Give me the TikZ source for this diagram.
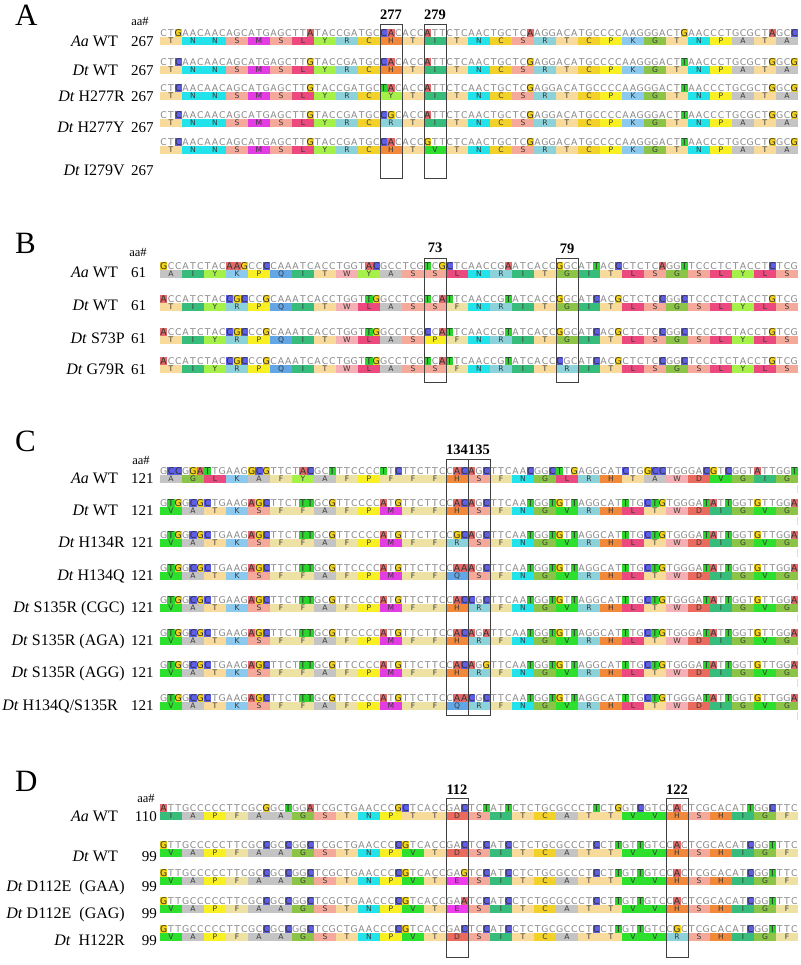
\documentclass[tikz,border=0pt]{standalone}
\usepackage{fontspec}
\setmainfont{Liberation Serif}
\newfontfamily\seqfont{DejaVu Sans}
\definecolor{ntA}{HTML}{E26A6A}
\definecolor{ntC}{HTML}{5E5EE6}
\definecolor{ntG}{HTML}{F2D21A}
\definecolor{ntT}{HTML}{2ED42E}
\definecolor{ntgray}{HTML}{8A8A8A}
\definecolor{ntdark}{HTML}{303030}
\definecolor{aatext}{HTML}{383838}
\definecolor{aaA}{HTML}{C4C4C4}
\definecolor{aaC}{HTML}{F2D22A}
\definecolor{aaD}{HTML}{EA6A5E}
\definecolor{aaE}{HTML}{EE3CEE}
\definecolor{aaF}{HTML}{EDE2A4}
\definecolor{aaG}{HTML}{8CC448}
\definecolor{aaH}{HTML}{F2883A}
\definecolor{aaI}{HTML}{38BC7C}
\definecolor{aaK}{HTML}{8CC9EE}
\definecolor{aaL}{HTML}{EC4A7E}
\definecolor{aaM}{HTML}{E23CE2}
\definecolor{aaN}{HTML}{22E2EA}
\definecolor{aaP}{HTML}{F8F022}
\definecolor{aaQ}{HTML}{62A6E6}
\definecolor{aaR}{HTML}{8CD2DA}
\definecolor{aaS}{HTML}{F5A99A}
\definecolor{aaT}{HTML}{F8DB9A}
\definecolor{aaV}{HTML}{2EE02E}
\definecolor{aaW}{HTML}{F5B0B5}
\definecolor{aaY}{HTML}{A6F04A}
\definecolor{boxline}{HTML}{404040}
\definecolor{edgecyan}{HTML}{BFE9F2}

\ExplSyntaxOn
\clist_new:N \g_hl_clist
\int_new:N \l_seq_pos_int
\tl_new:N \l_seq_opt_tl
\NewDocumentCommand \SetHL { m } { \clist_gset:Nn \g_hl_clist {#1} }
\NewDocumentCommand \NtRow { m m m }
  {
    \int_zero:N \l_seq_pos_int
    \tl_map_inline:nn {#3}
      {
        \int_incr:N \l_seq_pos_int
        \exp_args:NNe \clist_if_in:NnTF \g_hl_clist { \int_use:N \l_seq_pos_int }
          { \tl_set:Nn \l_seq_opt_tl { nthl , fill = nt##1 } }
          { \tl_set:Nn \l_seq_opt_tl { ntplain } }
        \use:e
          {
            \exp_not:N \node [ \exp_not:V \l_seq_opt_tl ] ~ ( #1 n \int_use:N \l_seq_pos_int ) ~ at ~
              ( \fp_eval:n { round ( 160 + ( \l_seq_pos_int - 0.5 ) * 22 / 3 , 3 ) } , #2 ) ~ { ##1 } ;
          }
      }
  }
\NewDocumentCommand \AaRow { m m m }
  {
    \int_zero:N \l_seq_pos_int
    \tl_map_inline:nn {#3}
      {
        \int_incr:N \l_seq_pos_int
        \use:e
          {
            \exp_not:N \node [ aabox , fill = aa##1 ] ~ ( #1 a \int_use:N \l_seq_pos_int ) ~ at ~
              ( \fp_eval:n { 149 + \l_seq_pos_int * 22 } , #2 ) ~ { ##1 } ;
          }
      }
  }
\ExplSyntaxOff

\tikzset{
  ntplain/.style={inner sep=0pt, minimum width=7.333pt, minimum height=8.6pt,
    text=ntgray, font=\seqfont\fontsize{9.3}{9.3}\selectfont, text height=6.8pt, text depth=0pt},
  nthl/.style={ntplain, text=ntdark},
  aabox/.style={inner sep=0pt, minimum width=21.4pt, minimum height=7.6pt,
    text=aatext, font=\seqfont\fontsize{7.6}{7.6}\selectfont, text height=5.5pt, text depth=0pt},
  rowname/.style={anchor=east, inner sep=0pt, font=\fontsize{16}{16}\selectfont, text height=10.6pt, text depth=0pt},
  rownum/.style={anchor=west, inner sep=0pt, font=\fontsize{15}{15}\selectfont, text height=10.2pt, text depth=0pt},
  panellab/.style={anchor=west, inner sep=0pt, font=\fontsize{31}{31}\selectfont, text height=20.5pt, text depth=0pt},
  aahash/.style={inner sep=0pt, font=\fontsize{12.5}{12.5}\selectfont, text height=8.5pt, text depth=0pt},
  posnum/.style={inner sep=0pt, font=\bfseries\fontsize{14.5}{14.5}\selectfont, text height=9.8pt, text depth=0pt},
  mutbox/.style={draw=boxline, line width=0.9pt},
  edgetick/.style={draw=edgecyan, line width=1.3pt},
}

\begin{document}
\begin{tikzpicture}[x=1pt,y=-1pt]
\useasboundingbox (0,0) rectangle (800,965);
\fill[white] (0,0) rectangle (800,965);

% ---------------- Panel A ----------------
\node[panellab] (pA) at (15,15) {A};
\node[aahash] (hA) at (140,21) {aa\#};
\node[posnum] (n277) at (391,15) {277};
\node[posnum] (n279) at (435,15) {279};
\SetHL{3,21,31,32,37,51,72,84,87}
\NtRow{Aa}{33}{CTGAACAACAGCATGAGCTTATACCGATGCCACACCATTCTCAACTGCTCAAGGACATGCCCCAAGGGACTGAACCCTGCGCTAGCC}
\AaRow{Aa}{41}{TNNSMSLYRCHTITNCSRTCPKGTNPATA}
\NtRow{Ab}{62}{CTCAACAACAGCATGAGCTTGTACCGATGCCACACCATTCTCAACTGCTCGAGGACATGCCCCAAGGGACTTAACCCTGCGCTGGCG}
\AaRow{Ab}{70}{TNNSMSLYRCHTITNCSRTCPKGTNPATA}
\NtRow{Ac}{88}{CTCAACAACAGCATGAGCTTGTACCGATGCTACACCATTCTCAACTGCTCGAGGACATGCCCCAAGGGACTTAACCCTGCGCTGGCG}
\AaRow{Ac}{96}{TNNSMSLYRCYTITNCSRTCPKGTNPATA}
\NtRow{Ad}{115}{CTCAACAACAGCATGAGCTTGTACCGATGCCGCACCATTCTCAACTGCTCGAGGACATGCCCCAAGGGACTTAACCCTGCGCTGGCG}
\AaRow{Ad}{123}{TNNSMSLYRCRTITNCSRTCPKGTNPATA}
\NtRow{Ae}{142}{CTCAACAACAGCATGAGCTTGTACCGATGCCACACCGTTCTCAACTGCTCGAGGACATGCCCCAAGGGACTTAACCCTGCGCTGGCG}
\AaRow{Ae}{150}{TNNSMSLYRCHTVTNCSRTCPKGTNPATA}
\node[rowname] (Aal) at (118,41) {\textit{Aa} WT};   \node[rownum] (Aak) at (131,41) {267};
\node[rowname] (Abl) at (118,70) {\textit{Dt} WT};   \node[rownum] (Abk) at (131,70) {267};
\node[rowname] (Acl) at (125,96) {\textit{Dt} H277R}; \node[rownum] (Ack) at (131,96) {267};
\node[rowname] (Adl) at (125,127) {\textit{Dt} H277Y}; \node[rownum] (Adk) at (131,127) {267};
\node[rowname] (Ael) at (125,170) {\textit{Dt} I279V}; \node[rownum] (Aek) at (131,170) {267};
\draw[mutbox] (380,24) rectangle (402,178);
\draw[mutbox] (424,24) rectangle (446,178);

% ---------------- Panel B ----------------
\node[panellab] (pB) at (15,243) {B};
\node[aahash] (hB) at (138,252) {aa\#};
\node[posnum] (n73) at (435,248) {73};
\node[posnum] (n79) at (567,249) {79};
\SetHL{1,10,11,12,15,29,30,37,39,40,48,55,60,63,69,72,84}
\NtRow{Ba}{266}{GCCATCTACAAGCCCCAAATCACCTGGTACGCCTCGTCGCTCAACCGAATCACCGGCATTACCCTCTCAGGTTCCCTCTACCTCTCG}
\AaRow{Ba}{274}{AIYKPQITWYASSLNRITGITLSGSLYLS}
\NtRow{Bb}{299}{ACCATCTACCGCCCGCAAATCACCTGGTTGGCCTCGTCATTCAACCGTATCACCGGCATCACGCTCTCCGGCTCCCTCTACCTGTCG}
\AaRow{Bb}{307}{TIYRPQITWLASSFNRITGITLSGSLYLS}
\NtRow{Bc}{332}{ACCATCTACCGCCCGCAAATCACCTGGTTGGCCTCGCCATTCAACCGTATCACCGGCATCACGCTCTCCGGCTCCCTCTACCTGTCG}
\AaRow{Bc}{340}{TIYRPQITWLASPFNRITGITLSGSLYLS}
\NtRow{Bd}{361}{ACCATCTACCGCCCGCAAATCACCTGGTTGGCCTCGTCATTCAACCGTATCACCCGCATCACGCTCTCCGGCTCCCTCTACCTGTCG}
\AaRow{Bd}{369}{TIYRPQITWLASSFNRITRITLSGSLYLS}
\node[rowname] (Bal) at (118,272) {\textit{Aa} WT};  \node[rownum] (Bak) at (131,272) {61};
\node[rowname] (Bbl) at (118,305) {\textit{Dt} WT};  \node[rownum] (Bbk) at (131,305) {61};
\node[rowname] (Bcl) at (125,338) {\textit{Dt} S73P}; \node[rownum] (Bck) at (131,338) {61};
\node[rowname] (Bdl) at (125,369) {\textit{Dt} G79R}; \node[rownum] (Bdk) at (131,369) {61};
\draw[mutbox] (424,258) rectangle (446,382);
\draw[mutbox] (556,258) rectangle (578,382);

% ---------------- Panel C ----------------
\node[panellab] (pC) at (15,441) {C};
\node[aahash] (hC) at (141,460) {aa\#};
\node[posnum] (n134) at (457,450) {134};
\node[posnum] (n135) at (479,450) {135};
\SetHL{2,3,5,6,7,13,14,15,20,21,24,31,33,41,42,43,45,51,54,55,57,64,67,68,69,75,76,78,82,87}
\NtRow{Ca}{471}{GCCGGATTGAAGGCGTTCTACGCTTTCCCCTTCTTCTTCCACAGCTTCAACGGCTTGAGGCATCTGGCCTGGGACGTCGGTATTGGT}
\AaRow{Ca}{479}{AGLKAFYAFPFFFHSFNGLRHTAWDVGIG}
\NtRow{Cb}{503}{GTGGCGCTGAAGAGCTTCTTTGCGTTCCCCATGTTCTTCCACAGCTTCAATGGTGTTAGGCATTTGCTGTGGGATATTGGTGTTGGA}
\AaRow{Cb}{511}{VATKSFFAFPMFFHSFNGVRHLTWDIGVG}
\NtRow{Cc}{535}{GTGGCGCTGAAGAGCTTCTTTGCGTTCCCCATGTTCTTCCGCAGCTTCAATGGTGTTAGGCATTTGCTGTGGGATATTGGTGTTGGA}
\AaRow{Cc}{543}{VATKSFFAFPMFFRSFNGVRHLTWDIGVG}
\NtRow{Cd}{568}{GTGGCGCTGAAGAGCTTCTTTGCGTTCCCCATGTTCTTCCAAAGCTTCAATGGTGTTAGGCATTTGCTGTGGGATATTGGTGTTGGA}
\AaRow{Cd}{576}{VATKSFFAFPMFFQSFNGVRHLTWDIGVG}
\NtRow{Ce}{600}{GTGGCGCTGAAGAGCTTCTTTGCGTTCCCCATGTTCTTCCACCGCTTCAATGGTGTTAGGCATTTGCTGTGGGATATTGGTGTTGGA}
\AaRow{Ce}{608}{VATKSFFAFPMFFHRFNGVRHLTWDIGVG}
\NtRow{Cf}{633}{GTGGCGCTGAAGAGCTTCTTTGCGTTCCCCATGTTCTTCCACAGATTCAATGGTGTTAGGCATTTGCTGTGGGATATTGGTGTTGGA}
\AaRow{Cf}{641}{VATKSFFAFPMFFHRFNGVRHLTWDIGVG}
\NtRow{Cg}{665}{GTGGCGCTGAAGAGCTTCTTTGCGTTCCCCATGTTCTTCCACAGGTTCAATGGTGTTAGGCATTTGCTGTGGGATATTGGTGTTGGA}
\AaRow{Cg}{673}{VATKSFFAFPMFFHRFNGVRHLTWDIGVG}
\NtRow{Ch}{698}{GTGGCGCTGAAGAGCTTCTTTGCGTTCCCCATGTTCTTCCAACGCTTCAATGGTGTTAGGCATTTGCTGTGGGATATTGGTGTTGGA}
\AaRow{Ch}{706}{VATKSFFAFPMFFQRFNGVRHLTWDIGVG}
\node[rowname] (Cal) at (118,478) {\textit{Aa} WT};          \node[rownum] (Cak) at (131,478) {121};
\node[rowname] (Cbl) at (118,510) {\textit{Dt} WT};          \node[rownum] (Cbk) at (131,510) {121};
\node[rowname] (Ccl) at (125,542) {\textit{Dt} H134R};       \node[rownum] (Cck) at (131,542) {121};
\node[rowname] (Cdl) at (125,575) {\textit{Dt} H134Q};       \node[rownum] (Cdk) at (131,575) {121};
\node[rowname] (Cel) at (125,607) {\textit{Dt} S135R (CGC)}; \node[rownum] (Cek) at (131,607) {121};
\node[rowname] (Cfl) at (125,640) {\textit{Dt} S135R (AGA)}; \node[rownum] (Cfk) at (131,640) {121};
\node[rowname] (Cgl) at (125,672) {\textit{Dt} S135R (AGG)}; \node[rownum] (Cgk) at (131,672) {121};
\node[rowname] (Chl) at (118,705) {\textit{Dt} H134Q/S135R};  \node[rownum] (Chk) at (131,705) {121};
\draw[mutbox] (446,459) rectangle (468,715);
\draw[mutbox] (468,459) rectangle (490,715);
\foreach \yy in {479,511,543,576,608,641,673,706}
  \draw[edgetick] (797.8,\yy+6) -- (797.8,\yy+14);

% ---------------- Panel D ----------------
\node[panellab] (pD) at (15,781) {D};
\node[aahash] (hD) at (146,798) {aa\#};
\node[posnum] (n112) at (457,790) {112};
\node[posnum] (n122) at (677,790) {122};
\SetHL{1,15,18,21,33,34,42,45,48,60,63,66,71,81,84}
\NtRow{Da}{808}{ATTGCCCCCTTCGCGGCTGGATCGCTGAACCCGCTCACCGACTCTATTCTCTGCGCCCTTCTGGTCGTCCACTCGCACATTGGCTTC}
\AaRow{Da}{816}{IAPFAAGSTNPTTDSITCATTVVHSHIGF}
\NtRow{Db}{845}{GTTGCCCCCTTCGCCGCCGGCTCGCTGAACCCCGTCACCGACTCCATCCTCTGCGCCCTCCTTGTTGTCCACTCGCACATCGGTTTC}
\AaRow{Db}{853}{VAPFAAGSTNPVTDSITCATTVVHSHIGF}
\NtRow{Dc}{873}{GTTGCCCCCTTCGCCGCCGGCTCGCTGAACCCCGTCACCGAGTCCATCCTCTGCGCCCTCCTTGTTGTCCACTCGCACATCGGTTTC}
\AaRow{Dc}{881}{VAPFAAGSTNPVTESITCATTVVHSHIGF}
\NtRow{Dd}{901}{GTTGCCCCCTTCGCCGCCGGCTCGCTGAACCCCGTCACCGAATCCATCCTCTGCGCCCTCCTTGTTGTCCACTCGCACATCGGTTTC}
\AaRow{Dd}{909}{VAPFAAGSTNPVTESITCATTVVHSHIGF}
\NtRow{De}{929}{GTTGCCCCCTTCGCCGCCGGCTCGCTGAACCCCGTCACCGACTCCATCCTCTGCGCCCTCCTTGTTGTCCGCTCGCACATCGGTTTC}
\AaRow{De}{937}{VAPFAAGSTNPVTDSITCATTVVRSHIGF}
\node[rowname] (Dal) at (118,816) {\textit{Aa} WT};               \node[rownum,anchor=east] (Dak) at (157,816) {110};
\node[rowname] (Dbl) at (118,856) {\textit{Dt} WT};               \node[rownum,anchor=east] (Dbk) at (157,856) {99};
\node[rowname] (Dcl) at (125,886) {\textit{Dt} D112E\ \ (GAA)};   \node[rownum,anchor=east] (Dck) at (157,886) {99};
\node[rowname] (Ddl) at (125,913) {\textit{Dt} D112E\ \ (GAG)};   \node[rownum,anchor=east] (Ddk) at (157,913) {99};
\node[rowname] (Del) at (125,940) {\textit{Dt}\ \ H122R};         \node[rownum,anchor=east] (Dek) at (157,940) {99};
\draw[mutbox] (446,798) rectangle (468,957);
\draw[mutbox] (666,798) rectangle (688,957);
\end{tikzpicture}
\end{document}
